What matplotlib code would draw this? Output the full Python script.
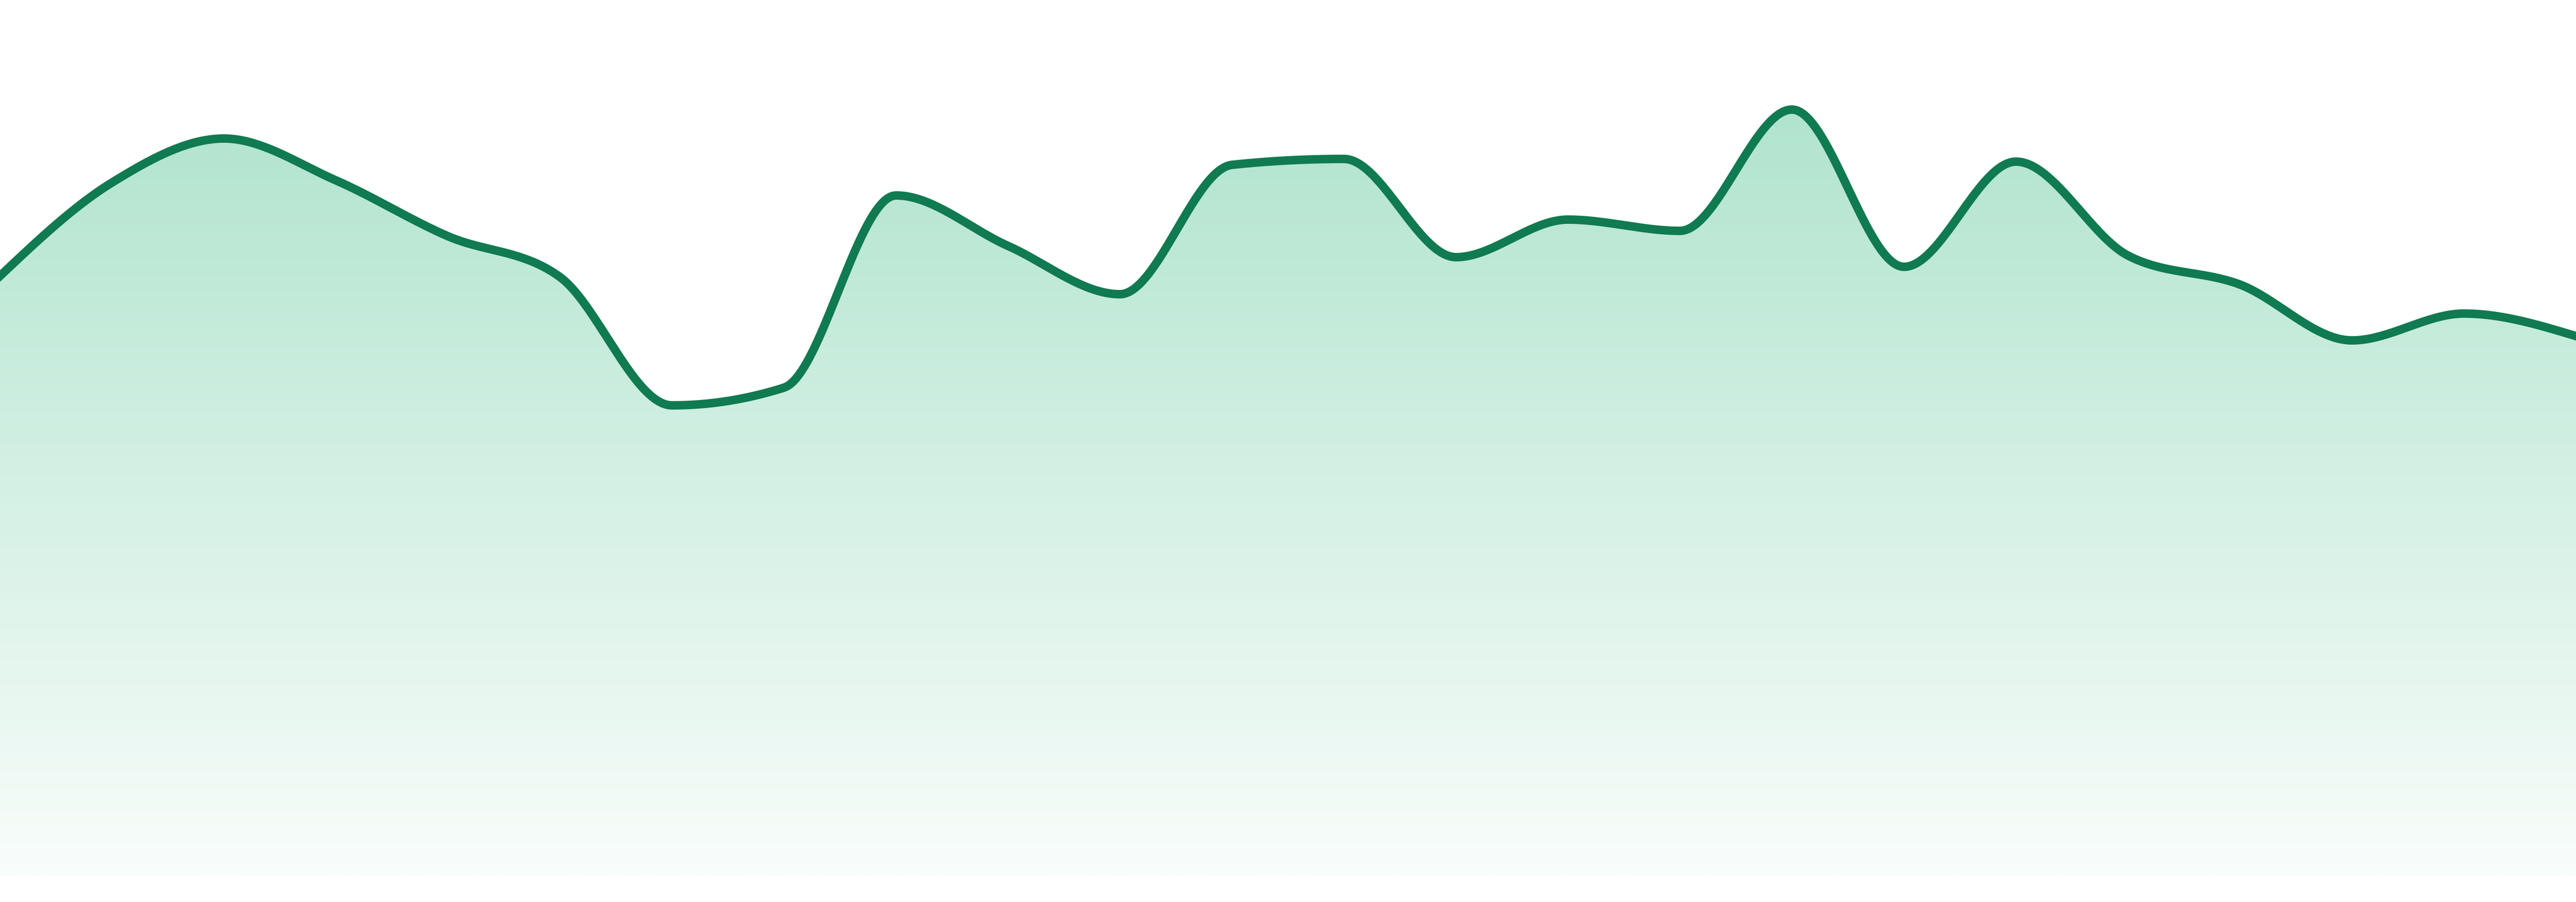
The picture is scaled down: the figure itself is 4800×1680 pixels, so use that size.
import matplotlib
matplotlib.use("Agg")
import matplotlib.pyplot as plt
import numpy as np
from matplotlib.patches import Polygon
from matplotlib.colors import to_rgb

# 値（24点、等間隔）
points = list(range(24))
values = [111.8, 129.2, 137.4, 129.6, 119.2, 111.6, 87.7, 91.0,
          126.8, 117.4, 108.4, 132.5, 133.6, 115.3, 122.3, 120.2,
          142.8, 113.5, 133.1, 115.6, 110.2, 99.8, 104.8, 100.6]

line_color = "#107a50"
grad_top = "#b0e4ce"
grad_bottom = "#f9fdfb"


def monotone_x(x, y, n=40):
    # d3 curveMonotoneX と同じ補間
    x = np.asarray(x, float)
    y = np.asarray(y, float)
    h = np.diff(x)
    s = np.diff(y) / h
    t = np.zeros(len(x))
    for i in range(1, len(x) - 1):
        s0, s1 = s[i - 1], s[i]
        p = (s0 * h[i] + s1 * h[i - 1]) / (h[i - 1] + h[i])
        t[i] = (np.sign(s0) + np.sign(s1)) * min(abs(s0), abs(s1), 0.5 * abs(p))
    t[0] = (3 * s[0] - t[1]) / 2
    t[-1] = (3 * s[-1] - t[-2]) / 2
    xs, ys = [], []
    u = np.linspace(0, 1, n)
    for i in range(len(x) - 1):
        dx = (x[i + 1] - x[i]) / 3
        px = [x[i], x[i] + dx, x[i + 1] - dx, x[i + 1]]
        py = [y[i], y[i] + dx * t[i], y[i + 1] - dx * t[i + 1], y[i + 1]]
        b = [(1 - u) ** 3, 3 * (1 - u) ** 2 * u, 3 * (1 - u) * u ** 2, u ** 3]
        xs.append(sum(bk * pk for bk, pk in zip(b, px)))
        ys.append(sum(bk * pk for bk, pk in zip(b, py)))
    return np.concatenate(xs), np.concatenate(ys)


xs, ys = monotone_x(points, values)

fig = plt.figure(figsize=(16, 5.6), dpi=300)
ax = fig.add_axes([0, 0, 1, 1])
ax.set_xlim(0, 23)
ax.set_ylim(-4.8, 163.2)
ax.axis("off")

# グラデーション塗り
top_val = max(values) + 0.8
c0 = np.array(to_rgb(grad_bottom))
c1 = np.array(to_rgb(grad_top))
f = np.linspace(0, 1, 256)[:, None]
grad = (c0 * (1 - f) + c1 * f)[:, None, :]
im = ax.imshow(grad, extent=(0, 23, 0, top_val), origin="lower",
               aspect="auto", interpolation="bilinear", zorder=1)
verts = np.column_stack([np.r_[xs, xs[-1], xs[0]], np.r_[ys, 0, 0]])
poly = Polygon(verts, closed=True, facecolor="none", edgecolor="none")
ax.add_patch(poly)
im.set_clip_path(poly)

ax.plot(xs, ys, color=line_color, lw=3.8, solid_joinstyle="round", zorder=2)

fig.savefig("out.png", dpi=300, facecolor="white")
